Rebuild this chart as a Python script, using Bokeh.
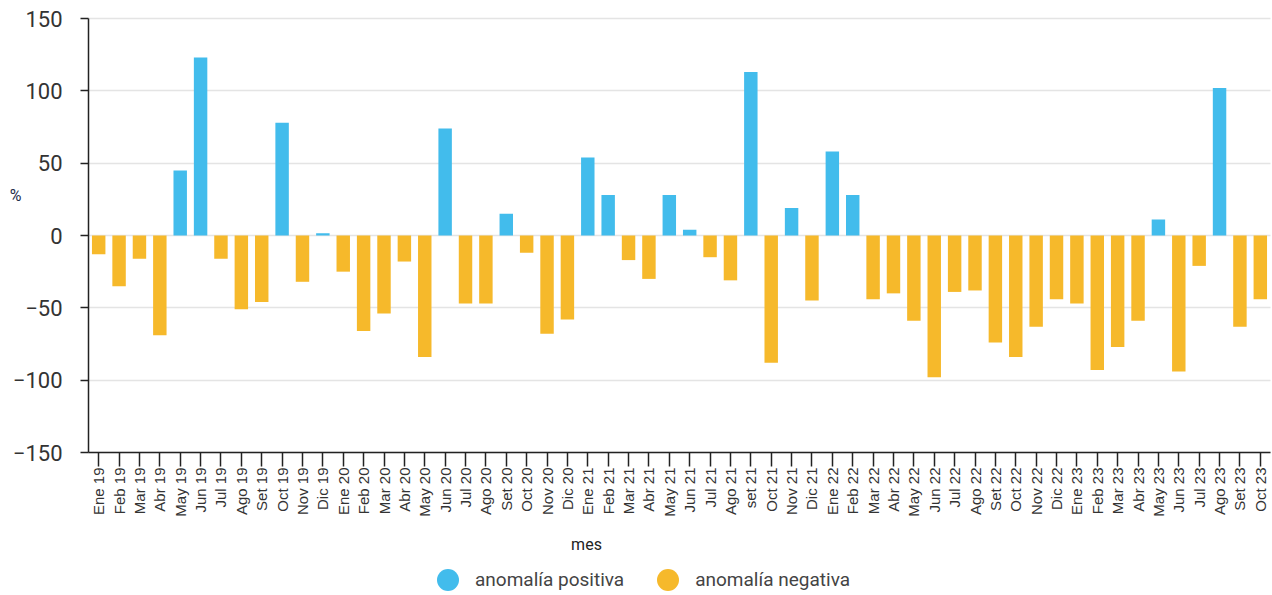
import math
from bokeh.plotting import figure
from bokeh.models import (ColumnDataSource, Range1d, FixedTicker, Label, Legend, LegendItem,
                          LinearAxis, Grid)
from bokeh.embed import file_html
from bokeh.resources import INLINE

# ---- data ----
meses = [
    "Ene 19", "Feb 19", "Mar 19", "Abr 19", "May 19", "Jun 19", "Jul 19", "Ago 19", "Set 19", "Oct 19", "Nov 19", "Dic 19",
    "Ene 20", "Feb 20", "Mar 20", "Abr 20", "May 20", "Jun 20", "Jul 20", "Ago 20", "Set 20", "Oct 20", "Nov 20", "Dic 20",
    "Ene 21", "Feb 21", "Mar 21", "Abr 21", "May 21", "Jun 21", "Jul 21", "Ago 21", "set 21", "Oct 21", "Nov 21", "Dic 21",
    "Ene 22", "Feb 22", "Mar 22", "Abr 22", "May 22", "Jun 22", "Jul 22", "Ago 22", "Set 22", "Oct 22", "Nov 22", "Dic 22",
    "Ene 23", "Feb 23", "Mar 23", "Abr 23", "May 23", "Jun 23", "Jul 23", "Ago 23", "Set 23", "Oct 23",
]
anomalia = [
    -13, -35, -16, -69, 45, 123, -16, -51, -46, 78, -32, 1.5,
    -25, -66, -54, -18, -84, 74, -47, -47, 15, -12, -68, -58,
    54, 28, -17, -30, 28, 4, -15, -31, 113, -88, 19, -45,
    58, 28, -44, -40, -59, -98, -39, -38, -74, -84, -63, -44,
    -47, -93, -77, -59, 11, -94, -21, 102, -63, -44,
]
y_ticks = [-150, -100, -50, 0, 50, 100, 150]
y_min, y_max = -150, 150
serie_pos = "anomalía positiva"
serie_neg = "anomalía negativa"

BLUE = "#42bcec"
ORANGE = "#f6b92b"
FONT = "Roboto"
TICKFONT = "Liberation Sans"

W, H = 1272, 595
# frame covers the whole canvas; the data area is placed inside it with padding
px_left, px_right, px_top, px_bottom = 88, 1270, 18, 452
n = len(meses)
kx = (px_right - px_left) / n
ky = (px_bottom - px_top) / (y_max - y_min)
x0 = -0.5 - px_left / kx
x1 = n - 0.5 + (W - px_right) / kx
y1 = y_max + px_top / ky
y0 = y_min - (H - px_bottom) / ky

idx = list(range(n))
pos = ColumnDataSource(dict(x=[i for i in idx if anomalia[i] >= 0],
                            y=[v for v in anomalia if v >= 0]))
neg = ColumnDataSource(dict(x=[i for i in idx if anomalia[i] < 0],
                            y=[v for v in anomalia if v < 0]))

p = figure(width=W, height=H, output_backend="svg", toolbar_location=None,
           x_range=Range1d(x0, x1), y_range=Range1d(y0, y1),
           x_axis_location=None, y_axis_location=None, min_border=0)
p.outline_line_color = None
p.background_fill_color = "white"
p.border_fill_color = "white"
p.grid.visible = False

# horizontal grid lines only over the data area
ygrid = Grid(dimension=1, ticker=FixedTicker(ticks=y_ticks), grid_line_color="#e4e4e4",
             grid_line_width=1.5, cross_bounds=(-0.5, n - 0.5))
p.add_layout(ygrid)

p.vbar(x="x", top="y", bottom=0, width=0.66, source=pos, fill_color=BLUE, line_color=None)
p.vbar(x="x", top="y", bottom=0, width=0.66, source=neg, fill_color=ORANGE, line_color=None)

# legend swatch renderers (NaN point, nothing drawn in the plot)
nan = float("nan")
r_pos = p.scatter(x=[nan], y=[nan], marker="circle", size=10, fill_color=BLUE, line_color=None)
r_neg = p.scatter(x=[nan], y=[nan], marker="circle", size=10, fill_color=ORANGE, line_color=None)

yaxis = LinearAxis(fixed_location=-0.5, bounds=(y_min, y_max), ticker=FixedTicker(ticks=y_ticks))
yaxis.minor_tick_line_color = None
yaxis.major_tick_out = 8
yaxis.major_tick_in = 0
yaxis.axis_line_color = "#222222"
yaxis.axis_line_width = 1.5
yaxis.major_tick_line_color = "#222222"
yaxis.major_tick_line_width = 1.5
yaxis.major_label_text_font = FONT
yaxis.major_label_text_font_size = "22px"
yaxis.major_label_text_color = "#333333"
yaxis.major_label_standoff = 18
p.add_layout(yaxis, "left")

xaxis = LinearAxis(fixed_location=y_min, bounds=(-0.5, n - 0.5), ticker=FixedTicker(ticks=idx))
xaxis.major_label_overrides = {i: m for i, m in zip(idx, meses)}
xaxis.minor_tick_line_color = None
xaxis.major_tick_out = 14
xaxis.major_tick_in = 0
xaxis.axis_line_color = "#222222"
xaxis.axis_line_width = 1.5
xaxis.major_tick_line_color = "#222222"
xaxis.major_tick_line_width = 1.5
xaxis.major_label_orientation = math.pi / 2
xaxis.major_label_text_font = TICKFONT
xaxis.major_label_text_font_size = "15px"
xaxis.major_label_text_color = "#333333"
xaxis.major_label_standoff = 1
p.add_layout(xaxis, "below")

# axis titles
p.add_layout(Label(x=x0 + 15 / kx, y=y1 - 195 / ky, text="%", text_font=FONT, text_font_size="16px",
                   text_color="#1f2d4a", text_align="center", text_baseline="middle"))
p.add_layout(Label(x=x0 + 586 / kx, y=y1 - 544 / ky, text="mes", text_font=FONT, text_font_size="16px",
                   text_color="#222222", text_align="center", text_baseline="middle"))

legend = Legend(items=[LegendItem(label=serie_pos, renderers=[r_pos]),
                       LegendItem(label=serie_neg, renderers=[r_neg])],
                orientation="horizontal", location=(420, -12),
                glyph_width=55, glyph_height=55, label_standoff=0, spacing=16,
                padding=0, margin=0, border_line_color=None, background_fill_alpha=0,
                label_text_font=FONT, label_text_font_size="19px", label_text_color="#444444")
p.add_layout(legend, "center")

open("out.html", "w").write(file_html(p, INLINE))
